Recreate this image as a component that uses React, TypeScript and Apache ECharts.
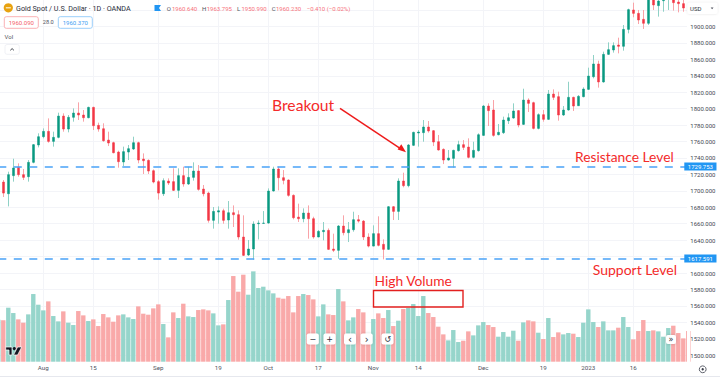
import React, { useEffect, useRef } from "react";
import * as echarts from "echarts";

// [open, close, low, high]
const candles: number[][] = [
  [1695,1705,1689,1709],[1710.7,1697.3,1692.5,1713.2],[1696.5,1719.7,1681.1,1723.3],[1718.5,1727.8,1711.2,1739.1],[1728.6,1719.7,1717.2,1733.5],[1719.7,1716.4,1713.2,1726.6],
  [1717.2,1734.7,1711.2,1737.5],[1734.7,1756.2,1733.5,1757],[1755.8,1765.9,1752.9,1770],[1765.9,1772.4,1763.9,1776],[1772.4,1760.2,1758.6,1788.2],[1760.2,1765.1,1753.8,1772],
  [1765.1,1791,1763.9,1795.1],[1791,1775.2,1772,1794.3],[1775.2,1789.5,1771.2,1792.3],[1789.5,1794.7,1784.2,1800.4],[1794.7,1792.3,1786.2,1807.7],[1792.3,1789,1784.2,1798.4],
  [1789,1801.6,1788.2,1802.4],[1801.6,1779.3,1774,1802.4],[1779.7,1775.2,1772,1783],[1775.6,1761,1759.8,1782.2],[1761.8,1758.2,1754.5,1772],[1758.6,1746.4,1745.6,1759.8],
  [1747.2,1735.5,1728.2,1748.9],[1735.1,1747.7,1730.2,1753.8],[1747.2,1751.3,1737.5,1755.8],[1750.9,1758.6,1749.7,1765.9],[1758.6,1737.5,1733.5,1759.8],[1738.7,1736.7,1720.5,1745.6],
  [1737.1,1724.1,1720.5,1738.3],[1724.5,1710.7,1709.1,1726.1],[1711.2,1697.3,1689.3,1713.2],[1696.5,1712.4,1693.7,1715.2],[1712,1709.5,1707.1,1715.2],[1711.2,1700.6,1699.8,1727.4],
  [1700.6,1718.5,1691.3,1727.4],[1718.5,1708.3,1705.1,1729.4],[1708.3,1716.4,1707.1,1729.4],[1716.4,1724.1,1712.4,1734.7],[1724.1,1701.8,1700.2,1731.4],[1702.2,1696.5,1693.3,1707.1],
  [1697.3,1664.1,1661.3,1699],[1664.1,1675,1654,1680.3],[1674.2,1675.8,1660,1681.1],[1675.8,1664.1,1660,1678.3],[1664.5,1673.4,1654,1687.6],[1673.4,1671,1656,1682.3],
  [1671,1643.8,1640.6,1676.2],[1643.8,1621.5,1620.7,1670.2],[1621.9,1629.2,1620.7,1640.2],[1629.2,1659.6,1616.2,1662.9],[1660,1660.8,1640.9,1664.1],[1660.4,1660.8,1660,1675.4],
  [1660.8,1699.8,1660,1703],[1699.8,1726.6,1699,1729.4],[1726.6,1716,1700.6,1729.4],[1716,1712.8,1707.9,1725.3],[1713.2,1694.5,1692.9,1714],[1694.5,1667.3,1665.3,1695.7],
  [1668.1,1666.1,1662.1,1684.4],[1666.1,1673,1661.7,1678.7],[1673,1666.1,1641.8,1682.3],[1666.1,1643.8,1641.8,1668.5],[1643.8,1650.7,1643.4,1652.3],[1650.3,1651.9,1639.8,1662.1],
  [1651.9,1628.8,1628,1654.3],[1629.2,1627.6,1625.5,1647.9],[1627.6,1657.2,1617.4,1658.4],[1657.2,1649.1,1645.8,1670.2],[1649.1,1652.7,1637.7,1662.1],[1652.7,1664.9,1650.3,1674.6],
  [1664.9,1663.2,1661.3,1670.6],[1663.2,1643.8,1640.2,1664.5],[1643.8,1632.8,1631.2,1648.3],[1632.8,1647.9,1632.4,1658],[1647.9,1633.7,1632.4,1669],[1634.9,1628.8,1616.6,1641],
  [1628.8,1680.7,1628,1681.5],[1680.7,1675,1664.5,1681.5],[1675,1712,1664.5,1715.2],[1712,1706.3,1704.3,1722.1],[1706.3,1755.8,1704.3,1757],[1755.4,1771.2,1754.5,1772],
  [1770.4,1771.6,1753.8,1774],[1770.8,1777.7,1759.8,1786.2],[1777.7,1772.8,1770.8,1785],[1773.2,1759.4,1754.5,1774],[1759.8,1749.7,1748.9,1768],[1750.5,1737.5,1732.6,1751.7],
  [1737.5,1740,1736.7,1749.7],[1739.5,1749.3,1728.2,1750.1],[1748.9,1756.2,1747.7,1761],[1756.2,1752.9,1749.7,1761.8],[1753.3,1740.8,1739.5,1763.9],[1740.8,1749.3,1739.5,1759.8],
  [1748.9,1768.3,1747.7,1770],[1767.5,1803.2,1766.7,1804.5],[1803.2,1797.6,1778.9,1806.5],[1798.4,1767.5,1765.9,1810.5],[1768.3,1771.2,1767.5,1781.3],[1770.8,1786.2,1769.2,1790.3],
  [1785.4,1789,1781.3,1794.3],[1788.6,1797.2,1787.8,1806.5],[1797.6,1780.1,1777.3,1798.4],[1780.9,1810.5,1780.1,1824.3],[1810.5,1806.5,1795.9,1812.6],[1807.3,1776,1774.8,1808.5],
  [1776,1792.7,1774.8,1794.3],[1792.7,1787,1784.2,1798.4],[1787,1817.8,1786.2,1822.7],[1817.8,1813.8,1810.5,1823.5],[1814.6,1792.3,1785.4,1820.7],[1792.3,1798.4,1791.1,1803.2],
  [1798.4,1813.8,1797.6,1832.8],[1813.8,1803.2,1797.2,1814.6],[1803.6,1815,1803.2,1816.6],[1814.6,1823.9,1813.8,1826],[1823.5,1839.7,1822.7,1849.9],[1838.9,1854.4,1836.9,1865.3],
  [1854.4,1832.5,1825.6,1858.4],[1832.5,1866.1,1831.6,1869.4],[1866.1,1871.8,1865.3,1880.7],[1871.4,1876.7,1868.2,1880.7],[1877.5,1875.9,1867.3,1886.4],[1875.9,1896.5,1870.6,1901.8],
  [1896.5,1920.5,1891.7,1921.7],[1920.1,1916,1911.2,1929],[1916,1907.9,1903,1920.1],[1908.7,1903.9,1897,1920.1],[1903.9,1934.3,1901.8,1938.3],[1936.3,1926.2,1920.1,1938.3],
  [1925.4,1931,1912,1934.3],[1931.4,1934.3,1918,1936.3],[1933.5,1938.3,1920.1,1940.4],[1932.3,1929,1919.3,1934.3],[1929.8,1927.8,1917.2,1932.3],[1927.8,1922.5,1918,1932.3],
  [1927.4,1920.1,1916.8,1930.2],
];

const volumes: number[] = [
  126,124,162,146,127,117,142,203,171,154,181,137,121,151,117,110,152,139,122,127,
  107,143,133,120,139,142,133,128,166,144,141,160,172,113,73,148,131,174,136,134,
  155,157,154,145,109,112,185,257,210,261,201,271,221,225,214,205,192,189,197,148,
  197,203,200,187,136,172,142,140,218,181,124,133,158,148,65,128,145,131,155,107,
  123,158,161,173,137,197,146,134,105,82,64,95,59,63,91,79,109,119,110,104,
  75,89,75,93,63,118,124,121,87,68,131,74,88,82,86,84,74,117,157,119,
  104,121,94,94,102,134,104,67,92,125,92,94,91,75,101,108,86,70,92,
];

const tickLabels: Record<number, string> = {
  9: "Aug", 19: "15", 32: "Sep", 44: "19", 54: "Oct", 64: "17",
  75: "Nov", 84: "14", 97: "Dec", 109: "19", 118: "2023", 127: "16",
};
const categories: string[] = candles.map((_, i) => "d" + i);
const levels = [1729.753, 1617.591];
const hiddenPriceLabels = [1480, 1620, 1920, 1940];

const UP = "#089981";
const DOWN = "#f23645";
const UP_WICK = "#8fd1c6";
const DOWN_WICK = "#f9a3a8";
const UP_VOL = "#96d5cb";
const DOWN_VOL = "#f9a9a9";
const LEVEL = "#4aa3f7";
const ANNOT = "#f42a2a";
const UI_FONT = "Roboto";
const ANNOT_FONT = "Lato";

const txt = (text: string, x: number, y: number, fill: string, fontSize: number, extra: any = {}) => ({
  type: "text", z: 40, x, y,
  style: { text, fill, fontSize, fontFamily: UI_FONT, verticalAlign: "middle", align: "left", ...extra },
});

const button = (cx: number, cy: number, w: number, h: number, glyph: string, size = 8) => [
  { type: "rect", z: 38, shape: { x: cx - w / 2, y: cy - h / 2, width: w, height: h, r: 2 },
    style: { fill: "#ffffff", shadowBlur: 3, shadowColor: "rgba(0,0,0,0.18)" } },
  txt(glyph, cx, cy, "#2a2e39", size, { align: "center", fontFamily: "DejaVu Sans" }),
];

export default function App() {
  const ref = useRef<HTMLDivElement>(null);
  useEffect(() => {
    document.body.style.margin = "0";
    const chart = echarts.init(ref.current!, undefined, { renderer: "svg" });
    const isTick = (i: number) => tickLabels[i] !== undefined;
    const levelLine = (v: number) => [
      { coord: [categories[0], v] },
      { coord: [categories[categories.length - 1], v] },
    ];
    chart.setOption({
      animation: false,
      backgroundColor: "#ffffff",
      grid: [
        { left: -1.7, width: 690, top: -6.37, height: 378, outerBoundsMode: "none" },
        { left: -1.7, width: 690, top: 261.7, height: 100, outerBoundsMode: "none" },
      ],
      xAxis: [
        {
          type: "category", gridIndex: 0, data: categories, boundaryGap: false,
          axisLine: { show: false }, axisTick: { show: false }, axisLabel: { show: false },
          splitLine: { show: true, interval: (i: number) => isTick(i), lineStyle: { color: "#f3f4f8", width: 1 } },
        },
        {
          type: "category", gridIndex: 1, data: categories, boundaryGap: false, z: 30,
          axisLine: { show: false }, axisTick: { show: false }, splitLine: { show: false },
          axisLabel: {
            interval: (i: number) => isTick(i), margin: 3.5, fontSize: 6.2, fontFamily: UI_FONT, color: "#50535e",
            formatter: (_: string, i: number) => tickLabels[i] ?? "",
          },
        },
      ],
      yAxis: [
        {
          type: "value", gridIndex: 0, position: "right", min: 1480, max: 1940, interval: 20,
          axisLine: { show: false }, axisTick: { show: false },
          splitLine: { lineStyle: { color: "#f3f4f8", width: 1 } },
          axisLabel: {
            margin: 2, fontSize: 6, fontFamily: UI_FONT, color: "#434651", align: "left",
            showMinLabel: true, showMaxLabel: true,
            formatter: (v: number) => (hiddenPriceLabels.includes(v) ? "" : v.toFixed(3)),
          },
        },
        { type: "value", gridIndex: 1, min: 0, max: 300, show: false },
      ],
      series: [
        {
          type: "bar", name: "Vol", xAxisIndex: 1, yAxisIndex: 1, barWidth: 4.4, z: 1,
          data: volumes.map((v, i) => ({
            value: v,
            itemStyle: { color: candles[i][1] >= candles[i][0] ? UP_VOL : DOWN_VOL },
          })),
        },
        {
          type: "candlestick", name: "Wicks", xAxisIndex: 0, yAxisIndex: 0, barWidth: 1, z: 2,
          itemStyle: { color: UP_WICK, color0: DOWN_WICK, borderColor: UP_WICK, borderColor0: DOWN_WICK, borderWidth: 1 },
          data: candles,
          markLine: {
            z: 20, symbol: "none", silent: true, animation: false,
            lineStyle: { color: LEVEL, type: [8, 7.5], width: 1.6 },
            label: {
              show: true, position: "end", distance: -2, offset: [-2, 0], color: "#ffffff", backgroundColor: "#2196f3",
              fontSize: 6, fontFamily: UI_FONT, padding: [1, 3.5, 1, 3.5],
              formatter: (p: any) => levels[p.dataIndex].toFixed(3),
            },
            data: levels.map(levelLine),
          },
        },
        {
          type: "candlestick", name: "Gold Spot / U.S. Dollar", xAxisIndex: 0, yAxisIndex: 0, barWidth: 3, z: 3,
          itemStyle: { color: UP, color0: DOWN, borderColor: UP, borderColor0: DOWN, borderWidth: 0.5 },
          data: candles.map(([o, c]) => [o, c, Math.min(o, c), Math.max(o, c)]),
        },
      ],
      graphic: [
        // price-scale and time-scale strips hide what runs past the plot area
        { type: "rect", z: 10, shape: { x: 687, y: 0, width: 3, height: 362 }, style: { fill: "#ffffff" } },
        { type: "rect", z: 10, shape: { x: 0, y: 362, width: 720, height: 15 }, style: { fill: "#ffffff" } },
        { type: "rect", z: 11, shape: { x: 0, y: 376, width: 720, height: 1 }, style: { fill: "#e6e8ee" } },

        // header
        { type: "circle", z: 40, shape: { cx: 8.3, cy: 7.8, r: 4.6 }, style: { fill: "#e8a20f" } },
        { type: "rect", z: 41, shape: { x: 5.8, y: 7.2, width: 5, height: 1.2 }, style: { fill: "#fff4d6" } },
        txt("Gold Spot / U.S. Dollar · 1D · OANDA", 16, 8, "#2a2e39", 7.2),
        { type: "polygon", z: 40, shape: { points: [[154.5, 5], [161, 5], [159, 8], [161, 11], [154.5, 11]] }, style: { fill: "#2196f3" } },
        txt("O", 166.7, 8.5, "#50535e", 6), txt("1960.640", 172, 8.5, "#f7727c", 6),
        txt("H", 202, 8.5, "#50535e", 6), txt("1963.795", 206.7, 8.5, "#f7727c", 6),
        txt("L", 237, 8.5, "#50535e", 6), txt("1950.990", 241.5, 8.5, "#f7727c", 6),
        txt("C", 271.7, 8.5, "#50535e", 6), txt("1960.230", 276, 8.5, "#f7727c", 6),
        txt("−0.410 (−0.02%)", 306.7, 8.5, "#f7727c", 6),

        { type: "rect", z: 40, shape: { x: 4.3, y: 16.7, width: 34, height: 11.6, r: 2 }, style: { fill: "#ffffff", stroke: "#f9a9ad", lineWidth: 0.9 } },
        txt("1960.090", 21.3, 22.6, "#f4606a", 6, { align: "center" }),
        txt("28.0", 48.3, 22.3, "#50535e", 5.6, { align: "center" }),
        { type: "rect", z: 40, shape: { x: 58.3, y: 16.7, width: 34, height: 11.6, r: 2 }, style: { fill: "#ffffff", stroke: "#90caf9", lineWidth: 0.9 } },
        txt("1960.370", 75.3, 22.6, "#42a0f2", 6, { align: "center" }),
        txt("Vol", 4.6, 36.8, "#50535e", 6),
        { type: "rect", z: 40, shape: { x: 5, y: 44.5, width: 14.3, height: 9.8, r: 2 }, style: { fill: "#ffffff", stroke: "#eceef2", lineWidth: 0.8 } },
        { type: "polyline", z: 41, shape: { points: [[10.3, 50.3], [12.1, 48.6], [13.9, 50.3]] }, style: { stroke: "#2a2e39", lineWidth: 0.9, fill: "none" } },

        // USD selector
        { type: "rect", z: 40, shape: { x: 687.5, y: 2.7, width: 30, height: 11.3, r: 2 }, style: { fill: "#ffffff", shadowBlur: 2, shadowColor: "rgba(0,0,0,0.12)" } },
        txt("USD", 690, 8.6, "#2a2e39", 6),
        { type: "polygon", z: 41, shape: { points: [[710.7, 7.6], [713.5, 7.6], [712.1, 9.2]] }, style: { fill: "#50535e" } },

        // annotations
        txt("Breakout", 272, 105, ANNOT, 15.7, { fontFamily: ANNOT_FONT }),
        { type: "line", z: 40, shape: { x1: 340, y1: 108.3, x2: 402, y2: 149.7 }, style: { stroke: "#ee1c1c", lineWidth: 1.5 } },
        { type: "polygon", z: 40, shape: { points: [[406, 152.2], [397.6, 149.6], [401.3, 144.2]] }, style: { fill: "#ee1c1c" } },
        txt("Resistance Level", 575, 156, ANNOT, 13.8, { fontFamily: ANNOT_FONT }),
        txt("Support Level", 592.7, 269.5, ANNOT, 14, { fontFamily: ANNOT_FONT }),
        txt("High Volume", 374.5, 280.5, ANNOT, 13.8, { fontFamily: ANNOT_FONT }),
        { type: "rect", z: 40, shape: { x: 373.5, y: 290.5, width: 89.5, height: 16.5 }, style: { fill: "none", stroke: "#e3201f", lineWidth: 1.4 } },

        // chart controls
        ...button(312.8, 339, 12, 11, "−"),
        ...button(329.5, 339, 12, 11, "+"),
        ...button(350, 339, 12, 11, "‹", 10),
        ...button(366.7, 339, 12, 11, "›", 10),
        ...button(387.5, 339, 12, 11, "↺"),
        ...button(671, 339.5, 10, 9, "»"),

        // logo and settings
        { type: "polygon", z: 40, shape: { points: [[5.7, 347], [12, 347], [12, 355], [9, 355], [9, 350], [5.7, 350]] }, style: { fill: "#131722", stroke: "#ffffff", lineWidth: 0.7 } },
        { type: "circle", z: 40, shape: { cx: 14.3, cy: 348.6, r: 1.6 }, style: { fill: "#131722" } },
        { type: "polygon", z: 40, shape: { points: [[17.6, 347], [21.7, 347], [17.6, 355], [13.5, 355]] }, style: { fill: "#131722", stroke: "#ffffff", lineWidth: 0.7 } },
        { type: "circle", z: 40, shape: { cx: 702.7, cy: 369.3, r: 3.4 }, style: { fill: "none", stroke: "#3a3e4a", lineWidth: 0.8 } },
        { type: "circle", z: 40, shape: { cx: 702.7, cy: 369.3, r: 1.2 }, style: { fill: "#3a3e4a" } },
      ],
    });
    return () => chart.dispose();
  }, []);
  return <div ref={ref} style={{ position: "fixed", left: 0, top: 0, width: 720, height: 377 }} />;
}
